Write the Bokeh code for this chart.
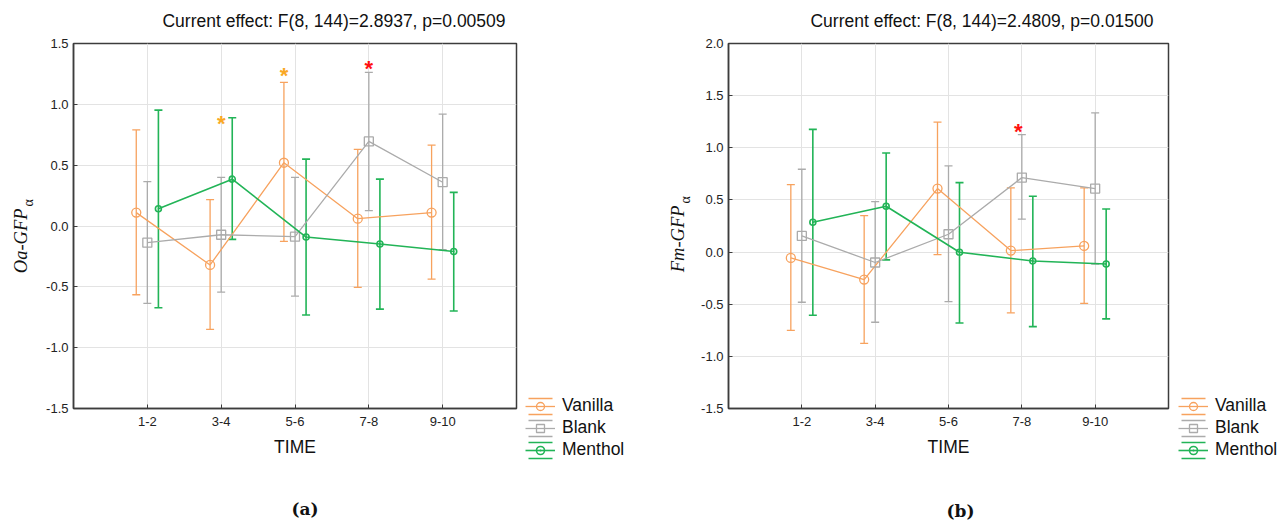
import numpy as np
from bokeh.plotting import figure
from bokeh.layouts import row
from bokeh.models import (Range1d, FixedTicker, Whisker, TeeHead,
                          ColumnDataSource, Legend, LegendItem, Label,
                          PrintfTickFormatter)
from bokeh.core.properties import value
from bokeh.embed import file_html
from bokeh.resources import INLINE

# ---------------------------------------------------------------- data
times = ["1-2", "3-4", "5-6", "7-8", "9-10"]
groups = ["Vanilla", "Blank", "Menthol"]

# (a) Oa-GFP alpha: means with lower / upper interval limits
a_vanilla_mean = [0.11, -0.32, 0.52, 0.06, 0.11]
a_vanilla_low = [-0.565, -0.85, -0.127, -0.505, -0.436]
a_vanilla_high = [0.79, 0.216, 1.18, 0.63, 0.665]
a_blank_mean = [-0.137, -0.072, -0.088, 0.695, 0.36]
a_blank_low = [-0.636, -0.543, -0.576, 0.126, -0.195]
a_blank_high = [0.364, 0.40, 0.40, 1.262, 0.92]
a_menthol_mean = [0.142, 0.385, -0.091, -0.148, -0.209]
a_menthol_low = [-0.672, -0.11, -0.732, -0.683, -0.699]
a_menthol_high = [0.952, 0.89, 0.55, 0.385, 0.276]

# (b) Fm-GFP alpha
b_vanilla_mean = [-0.056, -0.264, 0.609, 0.014, 0.059]
b_vanilla_low = [-0.75, -0.875, -0.024, -0.583, -0.491]
b_vanilla_high = [0.647, 0.35, 1.247, 0.615, 0.615]
b_blank_mean = [0.155, -0.10, 0.171, 0.714, 0.609]
b_blank_low = [-0.481, -0.673, -0.475, 0.315, -0.116]
b_blank_high = [0.794, 0.484, 0.826, 1.127, 1.334]
b_menthol_mean = [0.286, 0.439, -0.002, -0.085, -0.114]
b_menthol_low = [-0.606, -0.075, -0.68, -0.715, -0.641]
b_menthol_high = [1.177, 0.95, 0.666, 0.535, 0.413]

# significance markers: time slot, horizontal shift, height, kind
a_star_time = ["3-4", "5-6", "7-8"]
a_star_shift = [0.0, -0.15, 0.0]
a_star_y = [0.87, 1.26, 1.32]
a_star_kind = ["vs", "vs", "all"]
b_star_time = ["7-8"]
b_star_shift = [-0.05]
b_star_y = [1.187]
b_star_kind = ["all"]

a_title = "Current effect: F(8, 144)=2.8937, p=0.00509"
b_title = "Current effect: F(8, 144)=2.4809, p=0.01500"

# ---------------------------------------------------------------- style
COLORS = {"Vanilla": "#F7A25E", "Blank": "#ABABAB", "Menthol": "#22B457"}
MARKERS = {"Vanilla": ("circle", 9), "Blank": ("square", 9), "Menthol": ("circle_dot", 6)}
WIDTHS = {"Vanilla": 1.3, "Blank": 1.3, "Menthol": 1.6}
SHIFT = {"Vanilla": -0.15, "Blank": 0.0, "Menthol": 0.15}
STAR_COLORS = {"vs": "#F9A825", "all": "#FF1010"}
SANS = "Liberation Sans"
SERIF = "Liberation Serif"
FRAME = "#3c3c3c"
H = 523
TOP, BOTTOM = 43, 115


def make_panel(origin, width, left, right, y0, y1, series, stars, title,
               ylabel, ylabel_pos, alpha_pos, tag, tag_pos):
    fw = width - left - right
    fh = H - TOP - BOTTOM

    # page pixel -> data coordinate helpers for the text placed around the frame
    def dx(sx):
        return (sx - origin - left) / fw * 6.0

    def dy(sy):
        return y1 - (sy - TOP) / fh * (y1 - y0)

    p = figure(width=width, height=H, x_range=Range1d(0, 6), y_range=Range1d(y0, y1),
               min_border_left=left, min_border_right=right,
               min_border_top=TOP, min_border_bottom=BOTTOM,
               output_backend="svg", toolbar_location=None, title=None)
    p.frame_align = False
    p.background_fill_color = "white"
    p.border_fill_color = "white"
    p.outline_line_color = FRAME
    p.outline_line_width = 1.5

    yt = list(np.round(np.arange(y0, y1 + 0.01, 0.5), 2))
    p.xaxis.ticker = FixedTicker(ticks=list(range(1, len(times) + 1)))
    p.xaxis.major_label_overrides = {i + 1: t for i, t in enumerate(times)}
    p.yaxis.ticker = FixedTicker(ticks=yt)
    p.yaxis.formatter = PrintfTickFormatter(format="%.1f")
    for ax in (p.xaxis[0], p.yaxis[0]):
        ax.axis_line_color = FRAME
        ax.axis_line_width = 1.5
        ax.major_tick_in = 4
        ax.major_tick_out = 0
        ax.major_tick_line_color = FRAME
        ax.minor_tick_line_color = None
        ax.major_label_text_font = SANS
        ax.major_label_text_font_size = "13px"
        ax.major_label_text_color = "#222222"
    p.yaxis.major_label_standoff = 5
    p.xaxis.major_label_standoff = 8
    p.xaxis.axis_label = "TIME"
    p.xaxis.axis_label_text_font = SANS
    p.xaxis.axis_label_text_font_size = "17.5px"
    p.xaxis.axis_label_text_font_style = "normal"
    p.xaxis.axis_label_text_color = "#111111"
    p.xaxis.axis_label_standoff = 8

    p.xgrid.grid_line_color = "#e3e3e3"
    p.ygrid.grid_line_color = "#e3e3e3"

    for name, mean, low, high in series:
        c = COLORS[name]
        lw = WIDTHS[name]
        mk, ms = MARKERS[name]
        xs = [i + 1 + SHIFT[name] for i in range(len(times))]
        src = ColumnDataSource(dict(x=xs, mean=mean, low=low, high=high))
        wk = Whisker(base="x", lower="low", upper="high", source=src, dimension="height",
                     line_color=c, line_width=lw,
                     upper_head=TeeHead(size=8, line_color=c, line_width=lw),
                     lower_head=TeeHead(size=8, line_color=c, line_width=lw))
        p.add_layout(wk)
        p.line("x", "mean", source=src, line_color=c, line_width=lw)
        p.scatter("x", "mean", source=src, marker=mk, size=ms, line_color=c,
                  fill_color=None, line_width=lw)

    st_t, st_s, st_y, st_k = stars
    ssrc = ColumnDataSource(dict(
        x=[times.index(t) + 1 + s for t, s in zip(st_t, st_s)],
        y=st_y, t=["*"] * len(st_y), c=[STAR_COLORS[k] for k in st_k]))
    p.text("x", "y", text="t", source=ssrc, text_color="c", text_font=value(SANS),
           text_font_size="22px", text_font_style="bold", text_align="center",
           text_baseline="alphabetic", y_offset=3)

    # panel heading
    p.add_layout(Label(x=dx(title[1]), y=dy(20), text=title[0], text_font=SANS,
                       text_font_size="17.5px", text_color="#111111",
                       text_align="center", text_baseline="middle"), "above")
    # vertical quantity label with subscript alpha
    p.add_layout(Label(x=dx(ylabel_pos[0]), y=dy(ylabel_pos[1]), text=ylabel,
                       text_font=SERIF, text_font_size="18.5px", text_font_style="italic",
                       text_color="#111111", angle=np.pi / 2,
                       text_align="right", text_baseline="middle"), "left")
    p.add_layout(Label(x=dx(alpha_pos[0]), y=dy(alpha_pos[1]), text="\u03b1",
                       text_font=SERIF, text_font_size="14px",
                       text_color="#111111", angle=np.pi / 2,
                       text_align="left", text_baseline="middle"), "above")
    # panel tag
    p.add_layout(Label(x=dx(tag_pos[0]), y=dy(tag_pos[1]), text=tag,
                       text_font="DejaVu Serif", text_font_size="17px",
                       text_font_style="bold", text_color="#111111",
                       text_align="center", text_baseline="middle"), "below")
    return p


def make_key(width, loc):
    """Narrow strip holding the group key; its frame covers the whole strip."""
    k = figure(width=width, height=H, x_range=Range1d(0, 1), y_range=Range1d(0, 1),
               min_border=0, min_border_left=0, min_border_right=0,
               min_border_top=0, min_border_bottom=0,
               x_axis_location=None, y_axis_location=None,
               output_backend="svg", toolbar_location=None, title=None)
    k.frame_align = False
    k.outline_line_color = None
    k.background_fill_color = "white"
    k.border_fill_color = "white"
    for g in k.grid:
        g.visible = False
    items = []
    for name in groups:
        c = COLORS[name]
        lw = WIDTHS[name]
        mk, ms = MARKERS[name]
        # key glyphs carry one point parked outside the strip's visible range
        ln = k.line(x=[-5, -4], y=[-5, -5], line_color=c, line_width=lw)
        sc = k.scatter(x=[-5], y=[-5], marker=mk, size=ms, line_color=c,
                       fill_color=None, line_width=lw)
        # outline whose dashes leave only the top and bottom caps in the key
        cap = k.rect(x=[-5], y=[-5], width=0.1, height=0.1, fill_color=None,
                     line_color=c, line_width=lw, line_dash="24 16")
        items.append(LegendItem(label=name, renderers=[ln, sc, cap]))
    legend = Legend(items=items, location=loc, orientation="vertical",
                    padding=0, margin=0, spacing=1, glyph_width=30, glyph_height=20,
                    label_height=20, label_standoff=7, label_text_font=SANS,
                    label_text_font_size="17.5px", label_text_color="#111111",
                    background_fill_alpha=0, border_line_color=None)
    k.add_layout(legend)
    return k


pa = make_panel(0, 520, 73, 4, -1.5, 1.5,
                [("Vanilla", a_vanilla_mean, a_vanilla_low, a_vanilla_high),
                 ("Blank", a_blank_mean, a_blank_low, a_blank_high),
                 ("Menthol", a_menthol_mean, a_menthol_low, a_menthol_high)],
                (a_star_time, a_star_shift, a_star_y, a_star_kind),
                (a_title, 333.5), "Oa-GFP", (20, 208), (28, 206),
                "(a)", (304.5, 508))
ka = make_key(120, (5, 63))
pb = make_panel(640, 532, 88, 4, -1.5, 2.0,
                [("Vanilla", b_vanilla_mean, b_vanilla_low, b_vanilla_high),
                 ("Blank", b_blank_mean, b_blank_low, b_blank_high),
                 ("Menthol", b_menthol_mean, b_menthol_low, b_menthol_high)],
                (b_star_time, b_star_shift, b_star_y, b_star_kind),
                (b_title, 981.5), "Fm-GFP", (677, 205), (685, 203),
                "(b)", (960, 510))
kb = make_key(116, (6, 63))

layout = row(pa, ka, pb, kb)
open("out.html", "w").write(file_html(layout, INLINE))
